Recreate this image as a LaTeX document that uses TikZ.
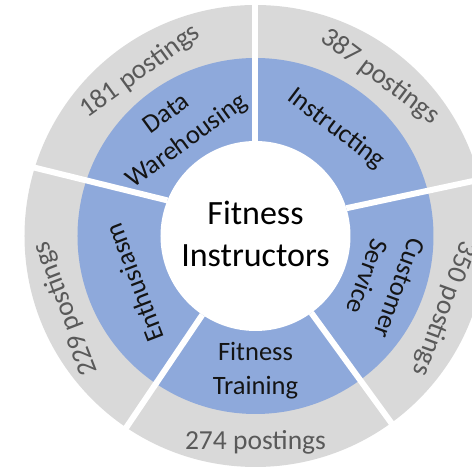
\documentclass[tikz,border=0pt]{standalone}
\usepackage{fontspec}
\setmainfont{Carlito}
\usepackage{tikz}
\definecolor{ringblue}{RGB}{142,169,219}
\definecolor{ringgray}{RGB}{217,217,217}
\definecolor{countgray}{RGB}{89,89,89}
\definecolor{labeldark}{RGB}{20,20,20}

\begin{document}
\begin{tikzpicture}[x=1pt, y=1pt,
  skill/.style={text=labeldark, align=center, font=\fontsize{26.5}{34}\selectfont},
  count/.style={text=countgray, font=\fontsize{27.5}{32}\selectfont},
  gap/.style={draw=white, line width=6pt}]
\useasboundingbox (-255.5,-234) rectangle (216.5,236);
% rings
\fill[ringgray] (0,0) circle (231pt);
\fill[ringblue] (0,0) circle (178pt);
\fill[white] (0,0) circle (95pt);
% white gaps between the segments
\draw[gap] (90:95pt) -- (90:245pt);
\draw[gap] (17:95pt) -- (14:245pt);
\draw[gap] (-54:95pt) -- (-54:245pt);
\draw[gap] (-124:95pt) -- (-124:245pt);
\draw[gap] (158:95pt) -- (163:245pt);
% centre
\node[text=black, align=center, font=\fontsize{34}{42}\selectfont] (job) at (0,2) {Fitness\\Instructors};
% skills
\node[skill, rotate=-37] (instructing) at (53:134pt) {Instructing};
\node[skill, rotate=-110] (service) at (-20:136pt) {Customer\\Service};
\node[skill] (training) at (-90:135pt) {Fitness\\Training};
\node[skill, rotate=111] (enthusiasm) at (201:130pt) {Enthusiasm};
\node[skill, rotate=36] (warehousing) at (126:133pt) {Data\\Warehousing};
% postings
\node[count, rotate=-37] (instructingcount) at (52:202pt) {387 postings};
\node[count, rotate=-110] (servicecount) at (-21:202pt) {350 postings};
\node[count] (trainingcount) at (-90:206pt) {274 postings};
\node[count, rotate=111] (enthusiasmcount) at (201:203pt) {229 postings};
\node[count, rotate=36] (warehousingcount) at (125:201pt) {181 postings};
\end{tikzpicture}
\end{document}
